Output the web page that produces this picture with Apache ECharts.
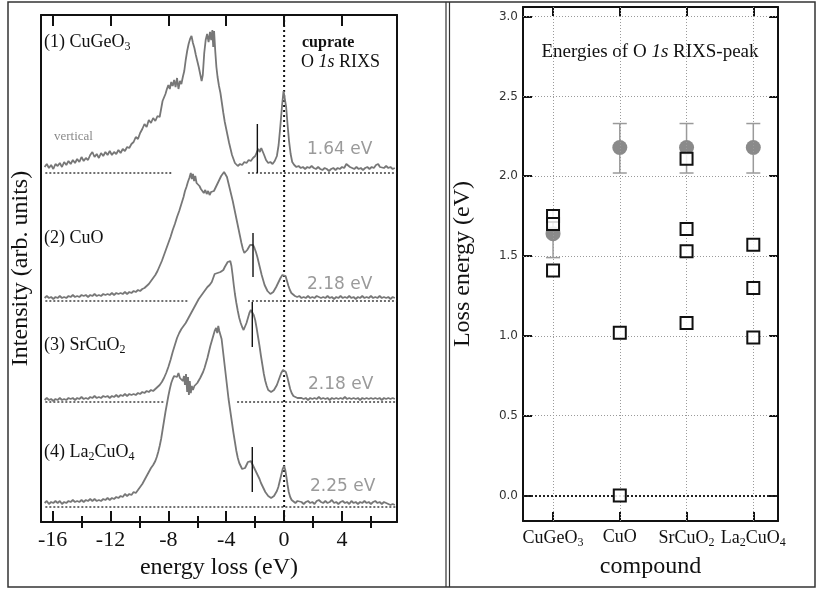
<!DOCTYPE html>
<html><head><meta charset="utf-8">
<script src="https://cdn.jsdelivr.net/npm/echarts@6/dist/echarts.min.js"></script>
<style>html,body{margin:0;padding:0;background:#fff}#chart{width:817px;height:589px}</style>
</head><body><div id="chart"></div>
<script>
// ---------------- Left panel: O 1s RIXS spectra (energy loss eV, intensity arb. units above own baseline)
const spectrumNames = ['CuGeO3', 'CuO', 'SrCuO2', 'La2CuO4'];
const specCuGeO3 = [[-16.55,6],[-16.4,9],[-16.25,5],[-16.1,8],[-15.95,4],[-15.8,9],[-15.65,7],[-15.5,10],[-15.35,6],[-15.2,11],[-15.05,8],[-14.9,12],[-14.75,9],[-14.6,13],[-14.45,10],[-14.3,14],[-14.15,11],[-14.0,16],[-13.85,12],[-13.7,15],[-13.55,13],[-13.4,18],[-13.25,21],[-13.1,16],[-12.95,19],[-12.8,15],[-12.65,20],[-12.5,17],[-12.35,21],[-12.2,18],[-12.05,22],[-11.9,18],[-11.75,21],[-11.6,19],[-11.45,23],[-11.3,20],[-11.15,24],[-11.0,22],[-10.85,26],[-10.7,25],[-10.55,29],[-10.4,31],[-10.25,36],[-10.1,34],[-9.95,40],[-9.8,44],[-9.65,49],[-9.5,46],[-9.35,53],[-9.2,50],[-9.05,55],[-8.9,52],[-8.75,57],[-8.6,56],[-8.5,64],[-8.4,72],[-8.3,70],[-8.2,79],[-8.1,84],[-8.0,88],[-7.9,84],[-7.8,91],[-7.7,87],[-7.6,93],[-7.5,86],[-7.4,95],[-7.3,84],[-7.2,92],[-7.1,89],[-7.0,96],[-6.9,102],[-6.8,113],[-6.7,122],[-6.6,129],[-6.5,134],[-6.4,137],[-6.3,130],[-6.2,125],[-6.1,118],[-6.0,112],[-5.9,106],[-5.8,99],[-5.7,92],[-5.62,98],[-5.52,120],[-5.42,133],[-5.32,139],[-5.22,131],[-5.12,141],[-5.04,133],[-4.96,143],[-4.9,126],[-4.84,142],[-4.76,122],[-4.68,106],[-4.6,96],[-4.5,87],[-4.4,80],[-4.3,70],[-4.2,60],[-4.1,51],[-4.0,44],[-3.9,37],[-3.8,30],[-3.7,24],[-3.6,18],[-3.5,14],[-3.4,10],[-3.3,8],[-3.2,7],[-3.05,9],[-2.9,8],[-2.75,11],[-2.6,10],[-2.45,13],[-2.3,12],[-2.15,15],[-2.0,17],[-1.88,21],[-1.78,24],[-1.68,21],[-1.58,25],[-1.48,23],[-1.38,18],[-1.25,13],[-1.1,10],[-0.95,11],[-0.8,9],[-0.65,12],[-0.5,17],[-0.38,28],[-0.26,47],[-0.14,68],[-0.04,82],[0.05,80],[0.14,66],[0.24,48],[0.34,32],[0.45,19],[0.56,11],[0.7,8],[0.85,6],[1.0,7],[1.15,5],[1.3,6],[1.45,4],[1.6,6],[1.75,5],[1.9,7],[2.05,5],[2.2,4],[2.35,6],[2.5,4],[2.65,3],[2.8,5],[2.95,4],[3.1,2],[3.25,4],[3.4,5],[3.55,3],[3.7,5],[3.85,4],[4.0,6],[4.15,5],[4.3,9],[4.42,11],[4.55,6],[4.7,5],[4.85,4],[5.0,6],[5.15,4],[5.3,5],[5.45,3],[5.6,5],[5.75,6],[5.9,4],[6.05,6],[6.2,5],[6.35,8],[6.5,9],[6.62,6],[6.75,8],[6.9,5],[7.05,7],[7.2,5],[7.35,6],[7.5,4],[7.65,5]];
const specCuO = [[-16.55,3],[-16.4,5],[-16.25,3],[-16.1,4],[-15.95,2],[-15.8,4],[-15.65,3],[-15.5,5],[-15.35,3],[-15.2,4],[-15.05,3],[-14.9,5],[-14.75,4],[-14.6,6],[-14.45,4],[-14.3,5],[-14.15,4],[-14.0,6],[-13.85,5],[-13.7,6],[-13.55,4],[-13.4,6],[-13.25,5],[-13.1,7],[-12.95,5],[-12.8,6],[-12.65,5],[-12.5,7],[-12.35,6],[-12.2,7],[-12.05,6],[-11.9,8],[-11.75,6],[-11.6,8],[-11.45,7],[-11.3,8],[-11.15,7],[-11.0,9],[-10.85,7],[-10.7,9],[-10.55,8],[-10.4,10],[-10.25,9],[-10.1,11],[-9.95,10],[-9.8,12],[-9.65,13],[-9.5,15],[-9.35,17],[-9.2,20],[-9.05,23],[-8.9,26],[-8.75,30],[-8.6,35],[-8.45,40],[-8.3,46],[-8.15,52],[-8.0,58],[-7.85,64],[-7.7,71],[-7.55,77],[-7.4,84],[-7.25,90],[-7.1,97],[-6.95,104],[-6.85,110],[-6.75,114],[-6.65,119],[-6.55,123],[-6.45,128],[-6.38,122],[-6.3,127],[-6.22,120],[-6.14,125],[-6.05,118],[-5.95,120],[-5.85,115],[-5.75,112],[-5.65,114],[-5.55,108],[-5.45,111],[-5.35,107],[-5.25,110],[-5.15,106],[-5.05,109],[-4.95,107],[-4.85,110],[-4.75,112],[-4.65,116],[-4.55,119],[-4.45,122],[-4.35,125],[-4.25,127],[-4.15,129],[-4.05,128],[-3.95,124],[-3.85,118],[-3.75,112],[-3.65,106],[-3.55,100],[-3.45,93],[-3.35,86],[-3.25,79],[-3.15,72],[-3.05,65],[-2.95,58],[-2.85,52],[-2.75,48],[-2.65,47],[-2.55,51],[-2.45,53],[-2.35,56],[-2.25,55],[-2.15,56],[-2.05,53],[-1.95,49],[-1.85,44],[-1.75,38],[-1.65,32],[-1.55,26],[-1.45,21],[-1.35,16],[-1.25,13],[-1.15,10],[-1.05,8],[-0.95,7],[-0.85,8],[-0.75,9],[-0.65,11],[-0.55,14],[-0.45,17],[-0.35,20],[-0.25,23],[-0.12,26],[0.0,27],[0.1,25],[0.2,20],[0.3,15],[0.4,11],[0.5,8],[0.62,6],[0.75,5],[0.9,4],[1.05,5],[1.2,3],[1.35,4],[1.5,3],[1.65,5],[1.8,3],[1.95,4],[2.1,3],[2.25,5],[2.4,4],[2.55,3],[2.7,4],[2.85,3],[3.0,5],[3.15,3],[3.3,4],[3.45,2],[3.6,4],[3.75,3],[3.9,5],[4.05,3],[4.2,4],[4.35,3],[4.5,5],[4.65,3],[4.8,4],[4.95,2],[5.1,4],[5.25,3],[5.4,5],[5.55,3],[5.7,4],[5.85,3],[6.0,5],[6.15,3],[6.3,4],[6.45,3],[6.6,5],[6.75,3],[6.9,4],[7.05,3],[7.2,4],[7.35,2],[7.5,4],[7.65,3]];
const specSrCuO2 = [[-16.55,2],[-16.4,4],[-16.25,2],[-16.1,3],[-15.95,1],[-15.8,3],[-15.65,2],[-15.5,4],[-15.35,2],[-15.2,3],[-15.05,2],[-14.9,4],[-14.75,3],[-14.6,4],[-14.45,2],[-14.3,4],[-14.15,3],[-14.0,5],[-13.85,3],[-13.7,4],[-13.55,3],[-13.4,5],[-13.25,4],[-13.1,6],[-12.95,4],[-12.8,5],[-12.65,4],[-12.5,6],[-12.35,5],[-12.2,6],[-12.05,4],[-11.9,6],[-11.75,5],[-11.6,7],[-11.45,5],[-11.3,7],[-11.15,6],[-11.0,8],[-10.85,6],[-10.7,8],[-10.55,7],[-10.4,8],[-10.25,7],[-10.1,9],[-9.95,8],[-9.8,10],[-9.65,9],[-9.5,11],[-9.35,10],[-9.2,12],[-9.05,11],[-8.9,13],[-8.75,15],[-8.6,17],[-8.45,20],[-8.3,24],[-8.15,29],[-8.0,35],[-7.85,42],[-7.7,50],[-7.55,57],[-7.4,64],[-7.25,69],[-7.1,73],[-6.95,76],[-6.8,79],[-6.65,83],[-6.5,87],[-6.35,91],[-6.2,95],[-6.05,99],[-5.9,103],[-5.75,106],[-5.6,109],[-5.45,112],[-5.3,115],[-5.15,117],[-5.0,120],[-4.9,124],[-4.8,128],[-4.7,126],[-4.6,129],[-4.5,127],[-4.4,130],[-4.3,129],[-4.2,132],[-4.1,135],[-4.0,137],[-3.9,140],[-3.8,142],[-3.72,141],[-3.64,136],[-3.56,127],[-3.48,117],[-3.4,108],[-3.3,99],[-3.2,91],[-3.1,84],[-3.0,79],[-2.9,75],[-2.8,72],[-2.7,74],[-2.6,79],[-2.5,84],[-2.4,89],[-2.3,92],[-2.2,91],[-2.1,87],[-2.0,82],[-1.9,74],[-1.8,65],[-1.7,56],[-1.6,46],[-1.5,37],[-1.4,28],[-1.3,21],[-1.2,16],[-1.1,12],[-1.0,10],[-0.9,10],[-0.8,11],[-0.7,12],[-0.6,14],[-0.5,17],[-0.4,21],[-0.3,25],[-0.2,29],[-0.08,32],[0.02,33],[0.12,30],[0.22,25],[0.32,19],[0.42,13],[0.52,9],[0.64,6],[0.78,5],[0.92,4],[1.05,3],[1.2,4],[1.35,3],[1.5,4],[1.65,2],[1.8,4],[1.95,3],[2.1,4],[2.25,3],[2.4,5],[2.55,3],[2.7,4],[2.85,3],[3.0,4],[3.15,2],[3.3,4],[3.45,3],[3.6,4],[3.75,3],[3.9,4],[4.05,3],[4.2,5],[4.35,3],[4.5,4],[4.65,3],[4.8,4],[4.95,3],[5.1,4],[5.25,2],[5.4,4],[5.55,3],[5.7,4],[5.85,3],[6.0,4],[6.15,3],[6.3,4],[6.45,3],[6.6,4],[6.75,2],[6.9,4],[7.05,3],[7.2,4],[7.35,3],[7.5,4],[7.65,3]];
const specLa2CuO4 = [[-16.55,4],[-16.4,6],[-16.25,3],[-16.1,5],[-15.95,4],[-15.8,6],[-15.65,4],[-15.5,6],[-15.35,3],[-15.2,5],[-15.05,4],[-14.9,6],[-14.75,5],[-14.6,7],[-14.45,5],[-14.3,6],[-14.15,5],[-14.0,7],[-13.85,5],[-13.7,7],[-13.55,6],[-13.4,8],[-13.25,6],[-13.1,8],[-12.95,6],[-12.8,7],[-12.65,6],[-12.5,8],[-12.35,7],[-12.2,9],[-12.05,7],[-11.9,9],[-11.75,8],[-11.6,10],[-11.45,9],[-11.3,11],[-11.15,10],[-11.0,13],[-10.85,11],[-10.7,13],[-10.55,12],[-10.4,15],[-10.25,14],[-10.1,17],[-9.95,20],[-9.8,23],[-9.65,27],[-9.5,31],[-9.35,35],[-9.2,39],[-9.05,42],[-8.9,46],[-8.8,50],[-8.7,55],[-8.6,61],[-8.5,68],[-8.4,77],[-8.3,86],[-8.2,95],[-8.1,103],[-8.0,111],[-7.9,118],[-7.8,124],[-7.7,128],[-7.6,131],[-7.5,133],[-7.4,130],[-7.3,134],[-7.2,129],[-7.1,131],[-7.0,126],[-6.92,131],[-6.85,122],[-6.78,133],[-6.7,115],[-6.64,130],[-6.58,112],[-6.52,126],[-6.45,114],[-6.38,121],[-6.3,117],[-6.2,121],[-6.1,119],[-6.0,124],[-5.9,126],[-5.8,129],[-5.7,132],[-5.6,135],[-5.5,139],[-5.4,144],[-5.3,149],[-5.2,155],[-5.1,161],[-5.0,166],[-4.9,171],[-4.8,176],[-4.7,179],[-4.62,174],[-4.55,181],[-4.48,176],[-4.4,178],[-4.32,168],[-4.24,158],[-4.16,148],[-4.08,138],[-4.0,128],[-3.92,118],[-3.84,108],[-3.76,100],[-3.68,92],[-3.6,84],[-3.5,74],[-3.4,65],[-3.3,56],[-3.2,49],[-3.1,44],[-3.0,41],[-2.9,38],[-2.8,37],[-2.7,39],[-2.6,42],[-2.5,45],[-2.4,47],[-2.3,46],[-2.2,43],[-2.1,40],[-2.0,37],[-1.9,34],[-1.8,31],[-1.7,28],[-1.6,24],[-1.5,21],[-1.4,18],[-1.3,15],[-1.2,13],[-1.1,11],[-1.0,10],[-0.9,9],[-0.8,10],[-0.7,11],[-0.6,13],[-0.5,16],[-0.4,20],[-0.3,26],[-0.2,32],[-0.1,38],[0.0,41],[0.08,37],[0.16,30],[0.24,22],[0.32,15],[0.42,10],[0.52,7],[0.64,5],[0.78,4],[0.92,6],[1.05,4],[1.2,5],[1.35,3],[1.5,5],[1.65,6],[1.8,4],[1.95,5],[2.1,3],[2.25,6],[2.4,7],[2.55,5],[2.7,4],[2.85,6],[3.0,4],[3.15,5],[3.3,7],[3.45,4],[3.6,5],[3.75,3],[3.9,5],[4.05,6],[4.2,4],[4.35,5],[4.5,3],[4.65,6],[4.8,4],[4.95,5],[5.1,3],[5.25,5],[5.4,4],[5.55,6],[5.7,4],[5.85,5],[6.0,3],[6.15,5],[6.3,6],[6.45,4],[6.6,5],[6.75,3],[6.9,5],[7.05,4],[7.2,3],[7.35,2],[7.5,3],[7.65,2]];
const spectraOffsets = [349, 221, 120, 15];          // vertical stacking offsets (arb. units)
const baselineSegments = [[[-16.5,-7.8],[-2.5,7.8]], [[-16.5,-6.55],[-2.5,7.8]], [[-16.5,-8.3],[-3.25,7.8]], [[-16.5,7.8]]];
const markerEnergy = [-1.85, -2.15, -2.2, -2.2];
const markerRange = [[0,49],[24,68],[55,100],[15,60]];
const peakLabels = ['1.64 eV', '2.18 eV', '2.18 eV', '2.25 eV'];
const energyTicks = [-16, -12, -8, -4, 0, 4];
const energyMinorTicks = [-14, -10, -6, -2, 2, 6];

// ---------------- Right panel: energies of O 1s RIXS peak
const compounds = ['CuGeO3', 'CuO', 'SrCuO2', 'La2CuO4'];
const compoundPos = [0, 1, 2, 3];
const peakEnergy = [1.64, 2.18, 2.18, 2.18];
const errLow = [1.49, 2.02, 2.02, 2.02];
const errHigh = [1.79, 2.33, 2.33, 2.33];
const squareEnergies = [[1.75, 1.70, 1.41], [1.02, 0.0], [2.11, 1.67, 1.53, 1.08], [1.57, 1.30, 0.99]];
const lossTicks = [0, 0.5, 1.0, 1.5, 2.0, 2.5, 3.0];

const serif = '"Liberation Serif", "DejaVu Serif", serif';
const sans = '"DejaVu Sans", sans-serif';
const subRich = {
  s: { fontFamily: serif, fontSize: 12, padding: [9, 0, 0, 0], color: '#111' },
  i: { fontFamily: serif, fontStyle: 'italic', fontSize: 18, color: '#111' }
};
const chem = s => s.replace(/(\d)/g, '{s|$1}');

const chart = echarts.init(document.getElementById('chart'), null, { renderer: 'canvas' });

const series = [];
const specs = [specCuGeO3, specCuO, specSrCuO2, specLa2CuO4];
specs.forEach((sp, k) => {
  series.push({
    type: 'line', xAxisIndex: 0, yAxisIndex: 0, name: spectrumNames[k],
    data: sp.map(p => [p[0], p[1] + spectraOffsets[k]]),
    showSymbol: false, symbol: 'none', silent: true,
    lineStyle: { color: '#777', width: 1.8 }, z: 3
  });
  baselineSegments[k].forEach(seg => {
    series.push({
      type: 'line', xAxisIndex: 0, yAxisIndex: 0, showSymbol: false, symbol: 'none', silent: true,
      data: [[seg[0], spectraOffsets[k]], [seg[1], spectraOffsets[k]]],
      lineStyle: { color: '#222', width: 1.3, type: [2, 2] }, z: 2
    });
  });
  series.push({
    type: 'line', xAxisIndex: 0, yAxisIndex: 0, showSymbol: false, symbol: 'none', silent: true,
    data: [[markerEnergy[k], markerRange[k][0] + spectraOffsets[k]], [markerEnergy[k], markerRange[k][1] + spectraOffsets[k]]],
    lineStyle: { color: '#111', width: 1.4 }, z: 4
  });
});
// zero-loss dotted line
series.push({
  type: 'line', xAxisIndex: 0, yAxisIndex: 0, showSymbol: false, symbol: 'none', silent: true,
  data: [[0, 0], [0, 507]], lineStyle: { color: '#111', width: 2, type: [2, 3] }, z: 2
});

// right panel: error bars + grid lines
series.push({
  type: 'custom', xAxisIndex: 4, yAxisIndex: 2, silent: true, z: 3,
  data: compoundPos.map((x, i) => [x, errLow[i], errHigh[i]]),
  renderItem: (params, api) => {
    const x = api.value(0);
    const pLo = api.coord([x, api.value(1)]);
    const pHi = api.coord([x, api.value(2)]);
    const st = { stroke: '#9a9a9a', lineWidth: 1.5 };
    const w = 7;
    return { type: 'group', children: [
      { type: 'line', shape: { x1: pLo[0], y1: pLo[1], x2: pHi[0], y2: pHi[1] }, style: st },
      { type: 'line', shape: { x1: pLo[0] - w, y1: pLo[1], x2: pLo[0] + w, y2: pLo[1] }, style: st },
      { type: 'line', shape: { x1: pHi[0] - w, y1: pHi[1], x2: pHi[0] + w, y2: pHi[1] }, style: st }
    ]};
  },
  markLine: {
    silent: true, symbol: 'none', label: { show: false }, animation: false,
    data: lossTicks.filter(v => v !== 0).map(v => ({ yAxis: v, lineStyle: { color: '#9a9a9a', width: 1, type: [1, 2] } }))
      .concat(compoundPos.map(v => ({ xAxis: v, lineStyle: { color: '#9a9a9a', width: 1, type: [1, 2] } })))
      .concat([{ yAxis: 0, lineStyle: { color: '#222', width: 2, type: [2, 2] } }])
  }
});
series.push({
  type: 'scatter', xAxisIndex: 4, yAxisIndex: 2, silent: true, z: 4,
  data: compoundPos.map((x, i) => [x, peakEnergy[i]]),
  symbol: 'circle', symbolSize: 15, itemStyle: { color: '#8a8a8a', opacity: 1 }
});
const sqData = [];
squareEnergies.forEach((arr, i) => arr.forEach(v => sqData.push([compoundPos[i], v])));
series.push({
  type: 'scatter', xAxisIndex: 4, yAxisIndex: 2, silent: true, z: 5,
  data: sqData, symbol: 'rect', symbolSize: 12,
  itemStyle: { color: 'rgba(255,255,255,0.85)', borderColor: '#111', borderWidth: 2, opacity: 1 }
});

const axisLine = { show: true, onZero: false, lineStyle: { color: '#111', width: 2 } };
const nameStyle = { fontFamily: serif, fontSize: 24, color: '#111' };

const option = {
  animation: false,
  backgroundColor: '#fff',
  grid: [
    { left: 41, top: 15, width: 356, height: 507 },
    { left: 523, top: 7, width: 255, height: 514 }
  ],
  xAxis: [
    { gridIndex: 0, type: 'value', position: 'bottom', min: -16.8, max: 7.8, axisLine,
      axisTick: { show: true, inside: true, length: 11, lineStyle: { color: '#111', width: 2 }, customValues: energyTicks },
      axisLabel: { show: true, customValues: energyTicks, margin: 7, fontFamily: serif, fontSize: 22, color: '#111', formatter: v => String(v) },
      splitLine: { show: false },
      name: 'energy loss (eV)', nameLocation: 'middle', nameGap: 34, nameTextStyle: nameStyle },
    { gridIndex: 0, type: 'value', position: 'top', min: -16.8, max: 7.8, axisLine,
      axisTick: { show: true, inside: true, length: 11, lineStyle: { color: '#111', width: 2 }, customValues: energyTicks },
      axisLabel: { show: false }, splitLine: { show: false } },
    { gridIndex: 0, type: 'value', position: 'bottom', min: -16.8, max: 7.8, axisLine: { show: false },
      axisTick: { show: true, inside: true, length: 6, lineStyle: { color: '#111', width: 2 }, customValues: energyMinorTicks },
      axisLabel: { show: false }, splitLine: { show: false } },
    { gridIndex: 0, type: 'value', position: 'top', min: -16.8, max: 7.8, axisLine: { show: false },
      axisTick: { show: true, inside: true, length: 6, lineStyle: { color: '#111', width: 2 }, customValues: energyMinorTicks },
      axisLabel: { show: false }, splitLine: { show: false } },
    { gridIndex: 1, type: 'value', position: 'bottom', min: -0.45, max: 3.37, axisLine,
      axisTick: { show: true, inside: true, length: 9, lineStyle: { color: '#111', width: 2 }, customValues: compoundPos },
      axisLabel: { show: true, customValues: compoundPos, margin: 7, fontFamily: serif, fontSize: 18, color: '#111',
        formatter: v => chem(compounds[Math.round(v)] || ''), rich: { s: subRich.s } },
      splitLine: { show: false },
      name: 'compound', nameLocation: 'middle', nameGap: 34, nameTextStyle: nameStyle },
    { gridIndex: 1, type: 'value', position: 'top', min: -0.45, max: 3.37, axisLine,
      axisTick: { show: true, inside: true, length: 9, lineStyle: { color: '#111', width: 2 }, customValues: compoundPos },
      axisLabel: { show: false }, splitLine: { show: false } }
  ],
  yAxis: [
    { gridIndex: 0, type: 'value', position: 'left', min: 0, max: 507, axisLine,
      axisTick: { show: false }, axisLabel: { show: false }, splitLine: { show: false },
      name: 'Intensity (arb. units)', nameLocation: 'middle', nameGap: 8, nameTextStyle: nameStyle },
    { gridIndex: 0, type: 'value', position: 'right', min: 0, max: 507, axisLine,
      axisTick: { show: false }, axisLabel: { show: false }, splitLine: { show: false } },
    { gridIndex: 1, type: 'value', position: 'left', min: -0.16, max: 3.06, axisLine,
      axisTick: { show: true, inside: true, length: 9, lineStyle: { color: '#111', width: 2 }, customValues: lossTicks },
      axisLabel: { show: true, customValues: lossTicks, margin: 5, fontFamily: sans, fontSize: 12, color: '#333', formatter: v => v.toFixed(1) },
      splitLine: { show: false },
      name: 'Loss energy (eV)', nameLocation: 'middle', nameGap: 48, nameTextStyle: nameStyle },
    { gridIndex: 1, type: 'value', position: 'right', min: -0.16, max: 3.06, axisLine,
      axisTick: { show: true, inside: true, length: 9, lineStyle: { color: '#111', width: 2 }, customValues: lossTicks },
      axisLabel: { show: false }, splitLine: { show: false } }
  ],
  series,
  graphic: [
    { type: 'rect', silent: true, z: 0, shape: { x: 8, y: 2, width: 807, height: 585 }, style: { fill: 'none', stroke: '#333', lineWidth: 1.5 } },
    { type: 'line', silent: true, shape: { x1: 446, y1: 2, x2: 446, y2: 587 }, style: { stroke: '#333', lineWidth: 1.2 } },
    { type: 'line', silent: true, shape: { x1: 449.5, y1: 2, x2: 449.5, y2: 587 }, style: { stroke: '#333', lineWidth: 1.2 } },
    { type: 'text', silent: true, x: 44, y: 42, style: { text: '(1) ' + chem(spectrumNames[0]), fontFamily: serif, fontSize: 18, fill: '#111', verticalAlign: 'middle', rich: subRich } },
    { type: 'text', silent: true, x: 44, y: 238, style: { text: '(2) ' + chem(spectrumNames[1]), fontFamily: serif, fontSize: 18, fill: '#111', verticalAlign: 'middle', rich: subRich } },
    { type: 'text', silent: true, x: 44, y: 345, style: { text: '(3) ' + chem(spectrumNames[2]), fontFamily: serif, fontSize: 18, fill: '#111', verticalAlign: 'middle', rich: subRich } },
    { type: 'text', silent: true, x: 44, y: 452, style: { text: '(4) ' + chem(spectrumNames[3]), fontFamily: serif, fontSize: 18, fill: '#111', verticalAlign: 'middle', rich: subRich } },
    { type: 'text', silent: true, x: 302, y: 43, style: { text: 'cuprate', fontFamily: serif, fontSize: 16, fontWeight: 'bold', fill: '#111', verticalAlign: 'middle' } },
    { type: 'text', silent: true, x: 301, y: 62, style: { text: 'O {i|1s} RIXS', fontFamily: serif, fontSize: 18, fill: '#111', verticalAlign: 'middle', rich: subRich } },
    { type: 'text', silent: true, x: 54, y: 137, style: { text: 'vertical', fontFamily: serif, fontSize: 13, fill: '#8a8a8a', verticalAlign: 'middle' } },
    { type: 'text', silent: true, x: 307, y: 150, style: { text: peakLabels[0], fontFamily: sans, fontSize: 17, fill: '#9a9a9a', verticalAlign: 'middle' } },
    { type: 'text', silent: true, x: 307, y: 285, style: { text: peakLabels[1], fontFamily: sans, fontSize: 17, fill: '#9a9a9a', verticalAlign: 'middle' } },
    { type: 'text', silent: true, x: 308, y: 385, style: { text: peakLabels[2], fontFamily: sans, fontSize: 17, fill: '#9a9a9a', verticalAlign: 'middle' } },
    { type: 'text', silent: true, x: 310, y: 487, style: { text: peakLabels[3], fontFamily: sans, fontSize: 17, fill: '#9a9a9a', verticalAlign: 'middle' } },
    { type: 'text', silent: true, x: 650, y: 52, style: { text: 'Energies of O {ti|1s} RIXS-peak', fontFamily: serif, fontSize: 19, fill: '#111', align: 'center', verticalAlign: 'middle',
      rich: { ti: { fontFamily: serif, fontStyle: 'italic', fontSize: 19, fill: '#111' } } } }
  ]
};
chart.setOption(option);
</script></body></html>
